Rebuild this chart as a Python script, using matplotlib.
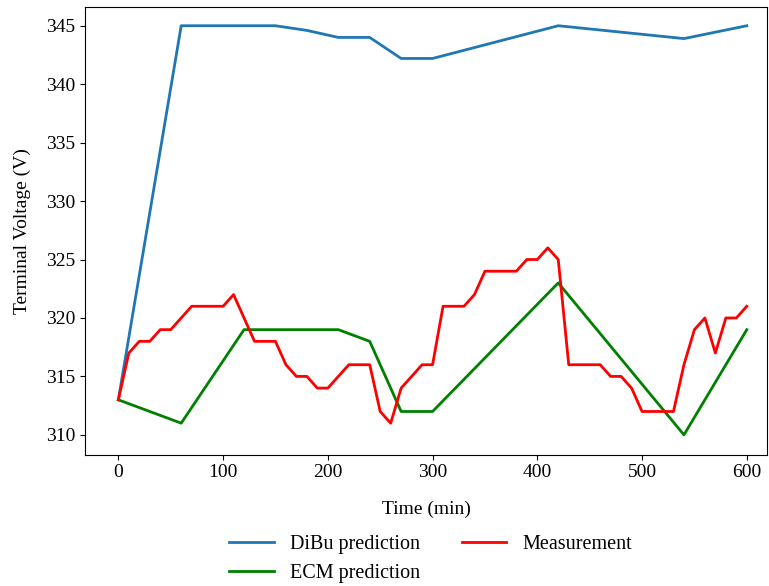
import matplotlib.pyplot as plt
import numpy as np

plt.rcParams["font.family"] = ["Liberation Serif", "DejaVu Serif"]

# DiBu / ECM predictions at their sample times
dibu_t = [0, 60, 150, 180, 210, 240, 270, 300, 420, 540, 600]
dibu_v = [313, 345, 345, 344.6, 344, 344, 342.2, 342.2, 345, 343.9, 345]

ecm_t = [0, 60, 120, 210, 240, 270, 300, 420, 540, 600]
ecm_v = [313, 311, 319, 319, 318, 312, 312, 323, 310, 319]

# measured terminal voltage, one sample every 10 min
meas_t = np.arange(0, 601, 10)
meas_v = [313, 317, 318, 318, 319, 319, 320, 321, 321, 321,
          321, 322, 320, 318, 318, 318, 316, 315, 315, 314,
          314, 315, 316, 316, 316, 312, 311, 314, 315, 316,
          316, 321, 321, 321, 322, 324, 324, 324, 324, 325,
          325, 326, 325, 316, 316, 316, 316, 315, 315, 314,
          312, 312, 312, 312, 316, 319, 320, 317, 320, 320,
          321]

fig = plt.figure(figsize=(7.69, 5.86), dpi=100)
ax = fig.add_axes([0.111, 0.224, 0.886, 0.764])

ax.plot(dibu_t, dibu_v, color="#1f77b4", lw=2, label="DiBu prediction")
ax.plot(ecm_t, ecm_v, color="green", lw=2, label="ECM prediction")
ax.plot(meas_t, meas_v, color="red", lw=2, label="Measurement")

ax.set_xlim(-31.5, 619)
ax.set_ylim(308.3, 346.6)
ax.set_xlabel("Time (min)", fontsize=14, labelpad=14)
ax.set_ylabel("Terminal Voltage (V)", fontsize=14, labelpad=11)
ax.tick_params(labelsize=14)

fig.legend(loc="lower center", bbox_to_anchor=(0.56, -0.026), ncol=2,
           frameon=False, fontsize=14.5, handlelength=2.2,
           columnspacing=2.1, labelspacing=0.5)

fig.savefig("out.png", dpi=100)
plt.close(fig)
